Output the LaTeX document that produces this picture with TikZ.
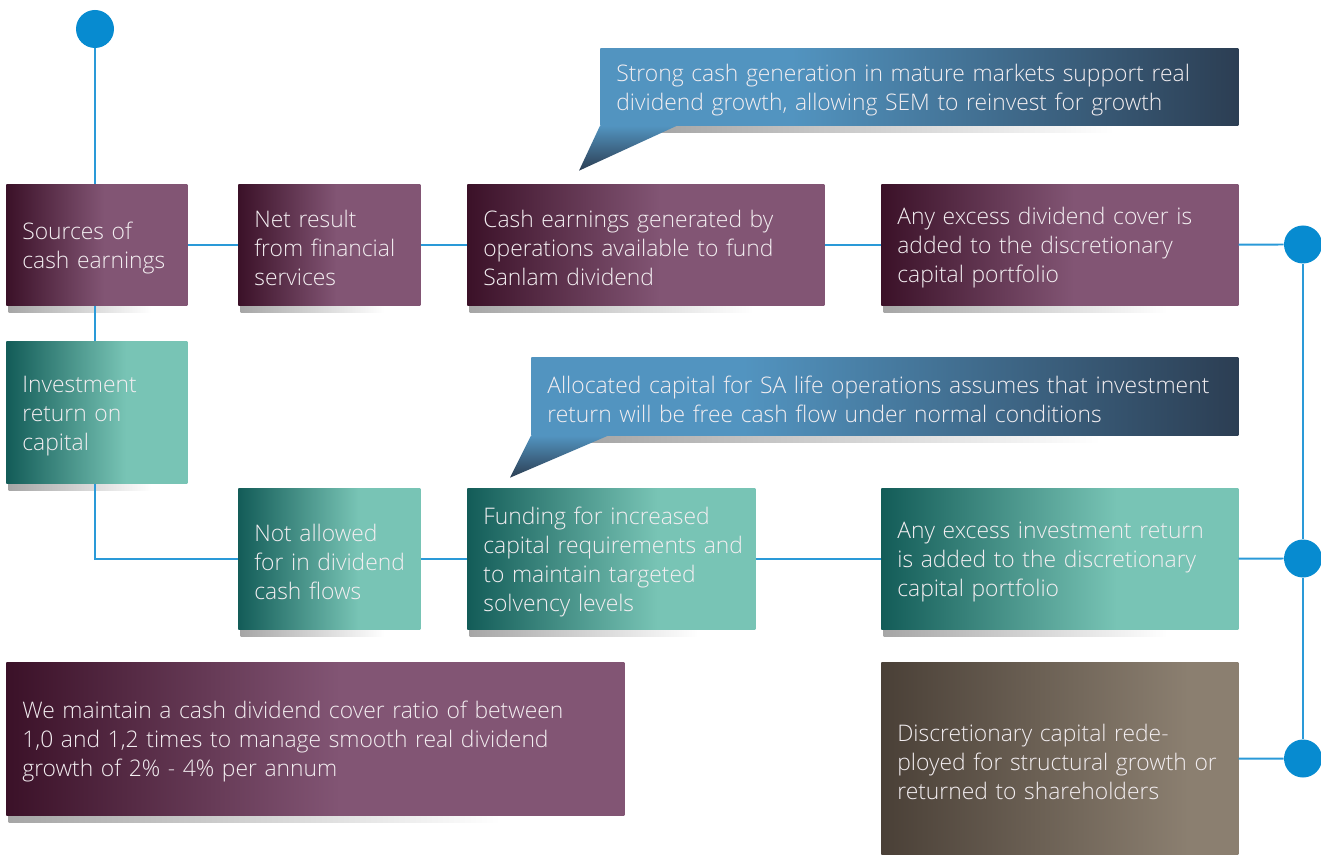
\documentclass[tikz,border=0pt]{standalone}
\usepackage{fontspec}
\setmainfont{Open Sans}[UprightFont={* Light}]
\usepackage{tikz}
\usetikzlibrary{calc,backgrounds}

\definecolor{plumdark}{HTML}{3B1128}
\definecolor{plumlight}{HTML}{825574}
\definecolor{tealdark}{HTML}{135C58}
\definecolor{teallight}{HTML}{78C4B5}
\definecolor{taupedark}{HTML}{4A4037}
\definecolor{taupelight}{HTML}{8B7F70}
\definecolor{skylight}{HTML}{5294C0}
\definecolor{skydark}{HTML}{2C3E53}
\definecolor{linkblue}{HTML}{2A9AD8}
\definecolor{dotblue}{HTML}{078BD0}
\definecolor{boxtext}{HTML}{F3EEF1}

\pgfdeclarehorizontalshading{plumshade}{100bp}{color(0bp)=(plumdark); color(25bp)=(plumdark); color(52bp)=(plumlight); color(100bp)=(plumlight)}
\pgfdeclarehorizontalshading{tealshade}{100bp}{color(0bp)=(tealdark); color(25bp)=(tealdark); color(58bp)=(teallight); color(100bp)=(teallight)}
\pgfdeclarehorizontalshading{taupeshade}{100bp}{color(0bp)=(taupedark); color(25bp)=(taupedark); color(68bp)=(taupelight); color(100bp)=(taupelight)}
\pgfdeclarehorizontalshading{skyshade}{100bp}{color(0bp)=(skylight); color(40bp)=(skylight); color(75bp)=(skydark); color(100bp)=(skydark)}
\pgfdeclarehorizontalshading{dropshade}{100bp}{color(0bp)=(black!35); color(25bp)=(black!35); color(72bp)=(white); color(100bp)=(white)}

\begin{document}
\begin{tikzpicture}[
		box/.style={rectangle, anchor=north west, inner xsep=0.32cm, inner ysep=0pt,
			align=left, text=boxtext, font=\fontsize{13}{16.5}\selectfont,
			execute at begin node={\rule{0pt}{13.4pt}}},
		plum/.style={box, shading=plumshade},
		teal/.style={box, shading=tealshade},
		taupe/.style={box, shading=taupeshade},
		callout/.style={box, shading=skyshade},
		dot/.style={circle, fill=dotblue, minimum size=0.76cm, inner sep=0pt},
		link/.style={draw=linkblue, line width=1.1pt}
	]
		\useasboundingbox (0,0) rectangle (26.42,-17.1);

		% top row
		\node[plum, minimum width=3.62cm, minimum height=2.42cm, text width=2.98cm] (src) at (0.12,-3.68) {Sources of\\\mbox{cash earnings}};
		\node[plum, minimum width=3.64cm, minimum height=2.42cm, text width=3.00cm] (net) at (4.76,-3.68) {Net result\\\mbox{from financial}\\services};
		\node[plum, minimum width=7.14cm, minimum height=2.42cm, text width=6.50cm] (cash) at (9.34,-3.68) {Cash earnings generated by\\operations available to fund\\Sanlam dividend};
		\node[plum, minimum width=7.14cm, minimum height=2.42cm, text width=6.50cm] (exdiv) at (17.62,-3.68) {Any excess dividend cover is\\added to the discretionary\\capital portfolio};

		% middle row
		\node[teal, minimum width=3.62cm, minimum height=2.84cm, text width=2.98cm] (inv) at (0.12,-6.82) {Investment\\return on\\capital};
		\node[teal, minimum width=3.64cm, minimum height=2.82cm, text width=3.00cm] (notal) at (4.76,-9.76) {Not allowed\\\mbox{for in dividend}\\cash flows};
		\node[teal, minimum width=5.76cm, minimum height=2.82cm, text width=5.12cm] (fund) at (9.34,-9.76) {Funding for increased\\\mbox{capital requirements and}\\to maintain targeted\\solvency levels};
		\node[teal, minimum width=7.14cm, minimum height=2.82cm, text width=6.50cm] (exinv) at (17.62,-9.76) {Any excess investment return\\is added to the discretionary\\capital portfolio};

		% bottom row
		\node[plum, minimum width=12.36cm, minimum height=3.06cm, text width=11.72cm] (cover) at (0.12,-13.24) {We maintain a cash dividend cover ratio of between\\1,0 and 1,2 times to manage smooth real dividend\\growth of 2\% - 4\% per annum};
		\node[taupe, minimum width=7.14cm, minimum height=3.86cm, text width=6.50cm] (disc) at (17.62,-13.24) {Discretionary capital rede-\\\mbox{ployed for structural growth or}\\returned to shareholders};

		% callouts
		\node[callout, minimum width=12.76cm, minimum height=1.54cm, text width=12.12cm] (call1) at (12.00,-0.96) {Strong cash generation in mature markets support real\\dividend growth, allowing SEM to reinvest for growth};
		\node[callout, minimum width=14.14cm, minimum height=1.56cm, text width=13.50cm] (call2) at (10.62,-7.14) {Allocated capital for SA life operations assumes that investment\\return will be free cash flow under normal conditions};
		\shade[top color=skylight, bottom color=skydark] (call1.south west) -- ++(-0.42,-0.90) -- ++(1.96,0.90) -- cycle;
		\shade[top color=skylight, bottom color=skydark] (call2.south west) -- ++(-0.42,-0.84) -- ++(1.96,0.84) -- cycle;

		% dots
		\node[dot] (top) at (1.90,-0.58) {};
		\node[dot] (d1) at (26.06,-4.89) {};
		\node[dot] (d2) at (26.06,-11.17) {};
		\node[dot] (d3) at (26.06,-15.17) {};

		% connectors
		\draw[link] (top) -- (top |- src.north);
		\draw[link] (top |- src.south) -- (top |- inv.north);
		\draw[link] (top |- inv.south) |- (notal);
		\draw[link] (src) -- (net);
		\draw[link] (net) -- (cash);
		\draw[link] (cash) -- (exdiv);
		\draw[link] (exdiv) -- (d1);
		\draw[link] (notal) -- (fund);
		\draw[link] (fund) -- (exinv);
		\draw[link] (exinv) -- (d2);
		\draw[link] (disc) -- (d3);
		\draw[link] (d1) -- (d2);
		\draw[link] (d2) -- (d3);

		% drop shadows
		\begin{scope}[on background layer]
			\foreach \n in {src,net,cash,exdiv,inv,notal,fund,exinv,cover}
				\shade[shading=dropshade] ($(\n.south west)+(0.05,0)$) rectangle ($(\n.south west)!0.85!(\n.south east)+(0,-0.13)$);
			\foreach \n in {call1,call2}
				\shade[shading=dropshade] ($(\n.south west)+(1.12,0)$) rectangle ($(\n.south west)!0.85!(\n.south east)+(0,-0.13)$);
		\end{scope}
	\end{tikzpicture}
\end{document}
